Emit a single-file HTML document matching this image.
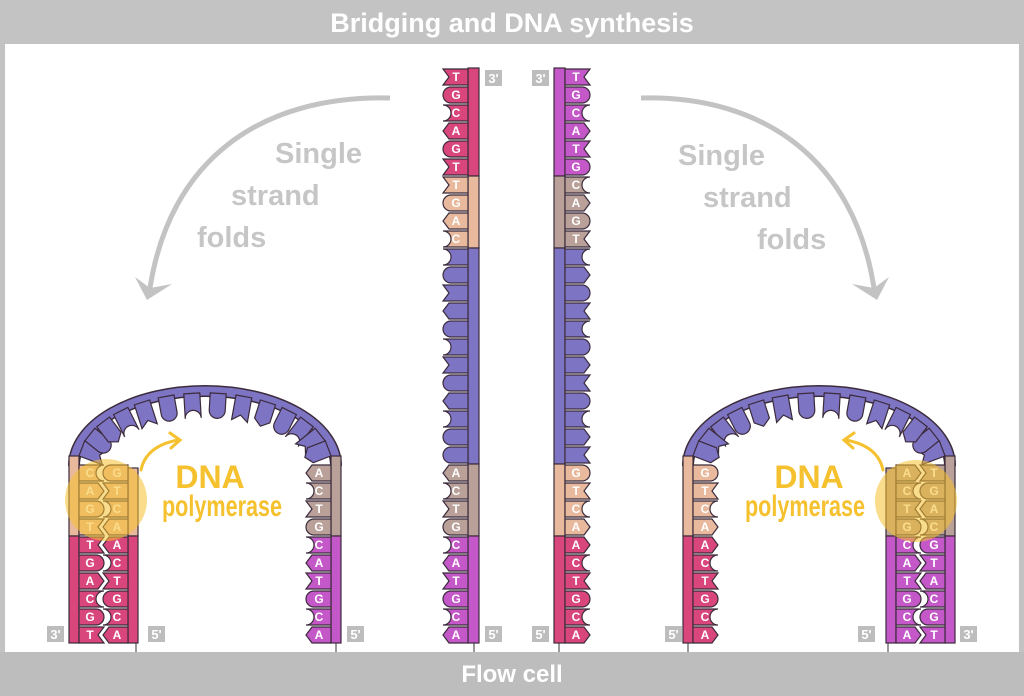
<!DOCTYPE html>
<html><head><meta charset="utf-8"><style>
html,body{margin:0;padding:0;background:#c3c3c3;}
svg{display:block;}
text{font-family:"Liberation Sans",sans-serif;font-weight:bold;}
.l{fill:#fff;font-size:12px;text-anchor:middle;}
</style></head><body>
<svg width="1024" height="696" viewBox="0 0 1024 696" xmlns="http://www.w3.org/2000/svg">
<defs>
<path id="A" d="M0,0H19L25,8L19,16H0Z" stroke="#3b2b3b" stroke-width="1.2"/>
<path id="T" d="M0,0H25L19,8L25,16H0Z" stroke="#3b2b3b" stroke-width="1.2"/>
<path id="G" d="M0,0H17A8,8 0 0 1 17,16H0Z" stroke="#3b2b3b" stroke-width="1.2"/>
<path id="C" d="M0,0H25A8,8 0 0 0 25,16H0Z" stroke="#3b2b3b" stroke-width="1.2"/>
<g id="teeth" fill="#7d74c4">
<use href="#T" transform="translate(81.8,448.4) rotate(20.9) translate(0,-8)"/>
<use href="#G" transform="translate(89.9,434.5) rotate(38.7) translate(0,-8)"/>
<use href="#A" transform="translate(103.1,421.9) rotate(52.6) translate(0,-8)"/>
<use href="#C" transform="translate(120.7,411) rotate(63.4) translate(0,-8)"/>
<use href="#T" transform="translate(142,402.4) rotate(72.2) translate(0,-8)"/>
<use href="#G" transform="translate(166.1,396.4) rotate(79.8) translate(0,-8)"/>
<use href="#C" transform="translate(191.8,393.4) rotate(86.7) translate(0,-8)"/>
<use href="#G" transform="translate(218.2,393.4) rotate(93.3) translate(0,-8)"/>
<use href="#T" transform="translate(243.9,396.4) rotate(100.2) translate(0,-8)"/>
<use href="#A" transform="translate(268,402.4) rotate(107.8) translate(0,-8)"/>
<use href="#G" transform="translate(289.3,411) rotate(116.6) translate(0,-8)"/>
<use href="#C" transform="translate(306.9,421.9) rotate(127.4) translate(0,-8)"/>
<use href="#T" transform="translate(320.1,434.5) rotate(141.3) translate(0,-8)"/>
<use href="#A" transform="translate(328.2,448.4) rotate(159.1) translate(0,-8)"/>
</g>
</defs>
<rect x="5" y="44" width="1014" height="608" fill="#fff"/>
<text x="512" y="32" fill="#fff" font-size="27" text-anchor="middle">Bridging and DNA synthesis</text>
<rect x="0" y="652" width="1024" height="44" fill="#bdbdbd"/>
<text x="512" y="682" fill="#fff" font-size="24" text-anchor="middle">Flow cell</text>

<g fill="none" stroke="#c3c3c3" stroke-width="5">
<path d="M390,98 C260,95 170,160 150,288"/>
<path d="M641,98 C764,95 854,160 874,288"/>
</g>
<polygon points="135,277 147,300 172,284 150,288" fill="#c3c3c3"/>
<polygon points="889,277 877,300 852,284 874,288" fill="#c3c3c3"/>
<g fill="#c6c6c6" font-size="29">
<text x="275" y="163">Single</text><text x="231" y="205">strand</text><text x="197" y="247">folds</text>
<text x="678" y="165">Single</text><text x="703" y="207">strand</text><text x="757" y="249">folds</text>
</g>

<g stroke="#999" stroke-width="2">
<line x1="474" y1="643" x2="474" y2="652"/><line x1="559" y1="643" x2="559" y2="652"/>
<line x1="136" y1="643" x2="136" y2="652"/><line x1="336" y1="643" x2="336" y2="652"/>
<line x1="688" y1="643" x2="688" y2="652"/><line x1="888" y1="643" x2="888" y2="652"/>
</g>

<g stroke="#3b2b3b" stroke-width="1.2">
<rect x="468" y="68" width="11" height="108" fill="#d9467b"/>
<rect x="468" y="176" width="11" height="72" fill="#e8b99c"/>
<rect x="468" y="248" width="11" height="216" fill="#7d74c4"/>
<rect x="468" y="464" width="11" height="72" fill="#b9a099"/>
<rect x="468" y="536" width="11" height="107" fill="#c458c9"/>
<rect x="554" y="68" width="11" height="108" fill="#c458c9"/>
<rect x="554" y="176" width="11" height="72" fill="#b9a099"/>
<rect x="554" y="248" width="11" height="216" fill="#7d74c4"/>
<rect x="554" y="464" width="11" height="72" fill="#e8b99c"/>
<rect x="554" y="536" width="11" height="107" fill="#d9467b"/>
</g>
<g fill="#d9467b">
<use href="#T" transform="translate(468,69) scale(-1,1)"/><use href="#G" transform="translate(468,87) scale(-1,1)"/><use href="#C" transform="translate(468,105) scale(-1,1)"/><use href="#A" transform="translate(468,123) scale(-1,1)"/><use href="#G" transform="translate(468,141) scale(-1,1)"/><use href="#T" transform="translate(468,159) scale(-1,1)"/>
</g>
<g fill="#e8b99c">
<use href="#T" transform="translate(468,177) scale(-1,1)"/><use href="#G" transform="translate(468,195) scale(-1,1)"/><use href="#A" transform="translate(468,213) scale(-1,1)"/><use href="#C" transform="translate(468,231) scale(-1,1)"/>
</g>
<g fill="#7d74c4">
<use href="#C" transform="translate(468,249) scale(-1,1)"/><use href="#G" transform="translate(468,267) scale(-1,1)"/><use href="#T" transform="translate(468,285) scale(-1,1)"/><use href="#A" transform="translate(468,303) scale(-1,1)"/><use href="#G" transform="translate(468,321) scale(-1,1)"/><use href="#C" transform="translate(468,339) scale(-1,1)"/><use href="#T" transform="translate(468,357) scale(-1,1)"/><use href="#G" transform="translate(468,375) scale(-1,1)"/><use href="#A" transform="translate(468,393) scale(-1,1)"/><use href="#C" transform="translate(468,411) scale(-1,1)"/><use href="#G" transform="translate(468,429) scale(-1,1)"/><use href="#G" transform="translate(468,447) scale(-1,1)"/>
</g>
<g fill="#b9a099">
<use href="#A" transform="translate(468,465) scale(-1,1)"/><use href="#C" transform="translate(468,483) scale(-1,1)"/><use href="#T" transform="translate(468,501) scale(-1,1)"/><use href="#G" transform="translate(468,519) scale(-1,1)"/>
</g>
<g fill="#c458c9">
<use href="#C" transform="translate(468,537) scale(-1,1)"/><use href="#A" transform="translate(468,555) scale(-1,1)"/><use href="#T" transform="translate(468,573) scale(-1,1)"/><use href="#G" transform="translate(468,591) scale(-1,1)"/><use href="#C" transform="translate(468,609) scale(-1,1)"/><use href="#A" transform="translate(468,627) scale(-1,1)"/>
</g>
<g class="l">
<text x="456" y="81">T</text><text x="456" y="99">G</text><text x="456" y="117">C</text><text x="456" y="135">A</text><text x="456" y="153">G</text><text x="456" y="171">T</text>
<text x="456" y="189">T</text><text x="456" y="207">G</text><text x="456" y="225">A</text><text x="456" y="243">C</text>
<text x="456" y="477">A</text><text x="456" y="495">C</text><text x="456" y="513">T</text><text x="456" y="531">G</text>
<text x="456" y="549">C</text><text x="456" y="567">A</text><text x="456" y="585">T</text><text x="456" y="603">G</text><text x="456" y="621">C</text><text x="456" y="639">A</text>
</g>
<g fill="#c458c9">
<use href="#T" x="565" y="69"/><use href="#G" x="565" y="87"/><use href="#C" x="565" y="105"/><use href="#A" x="565" y="123"/><use href="#T" x="565" y="141"/><use href="#G" x="565" y="159"/>
</g>
<g fill="#b9a099">
<use href="#C" x="565" y="177"/><use href="#A" x="565" y="195"/><use href="#G" x="565" y="213"/><use href="#T" x="565" y="231"/>
</g>
<g fill="#7d74c4">
<use href="#C" x="565" y="249"/><use href="#A" x="565" y="267"/><use href="#G" x="565" y="285"/><use href="#T" x="565" y="303"/><use href="#C" x="565" y="321"/><use href="#G" x="565" y="339"/><use href="#A" x="565" y="357"/><use href="#T" x="565" y="375"/><use href="#G" x="565" y="393"/><use href="#C" x="565" y="411"/><use href="#A" x="565" y="429"/><use href="#T" x="565" y="447"/>
</g>
<g fill="#e8b99c">
<use href="#G" x="565" y="465"/><use href="#T" x="565" y="483"/><use href="#C" x="565" y="501"/><use href="#A" x="565" y="519"/>
</g>
<g fill="#d9467b">
<use href="#A" x="565" y="537"/><use href="#C" x="565" y="555"/><use href="#T" x="565" y="573"/><use href="#G" x="565" y="591"/><use href="#C" x="565" y="609"/><use href="#A" x="565" y="627"/>
</g>
<g class="l">
<text x="576" y="81">T</text><text x="576" y="99">G</text><text x="576" y="117">C</text><text x="576" y="135">A</text><text x="576" y="153">T</text><text x="576" y="171">G</text>
<text x="576" y="189">C</text><text x="576" y="207">A</text><text x="576" y="225">G</text><text x="576" y="243">T</text>
<text x="576" y="477">G</text><text x="576" y="495">T</text><text x="576" y="513">C</text><text x="576" y="531">A</text>
<text x="576" y="549">A</text><text x="576" y="567">C</text><text x="576" y="585">T</text><text x="576" y="603">G</text><text x="576" y="621">C</text><text x="576" y="639">A</text>
</g>

<path d="M74,466 A131,75 0 0 1 336,466" fill="none" stroke="#3b2b3b" stroke-width="12"/>
<path d="M74,466 A131,75 0 0 1 336,466" fill="none" stroke="#7d74c4" stroke-width="9"/>
<use href="#teeth"/>
<g stroke="#3b2b3b" stroke-width="1.2">
<rect x="69" y="456" width="10" height="80" fill="#e8b99c"/>
<rect x="69" y="536" width="10" height="107" fill="#d9467b"/>
<rect x="331" y="456" width="10" height="80" fill="#b9a099"/>
<rect x="331" y="536" width="10" height="107" fill="#c458c9"/>
<rect x="128" y="468" width="10" height="68" fill="#e8b99c"/>
<rect x="128" y="536" width="10" height="107" fill="#d9467b"/>
</g>
<g fill="#e8b99c">
<use href="#C" x="79" y="465"/><use href="#A" x="79" y="483"/><use href="#G" x="79" y="501"/><use href="#T" x="79" y="519"/>
<use href="#G" transform="translate(128,465) scale(-1,1)"/><use href="#T" transform="translate(128,483) scale(-1,1)"/><use href="#C" transform="translate(128,501) scale(-1,1)"/><use href="#A" transform="translate(128,519) scale(-1,1)"/>
</g>
<g fill="#d9467b">
<use href="#T" x="79" y="537"/><use href="#G" x="79" y="555"/><use href="#A" x="79" y="573"/><use href="#C" x="79" y="591"/><use href="#G" x="79" y="609"/><use href="#T" x="79" y="627"/>
<use href="#A" transform="translate(128,537) scale(-1,1)"/><use href="#C" transform="translate(128,555) scale(-1,1)"/><use href="#T" transform="translate(128,573) scale(-1,1)"/><use href="#G" transform="translate(128,591) scale(-1,1)"/><use href="#C" transform="translate(128,609) scale(-1,1)"/><use href="#A" transform="translate(128,627) scale(-1,1)"/>
</g>
<g fill="#b9a099">
<use href="#A" transform="translate(331,465) scale(-1,1)"/><use href="#C" transform="translate(331,483) scale(-1,1)"/><use href="#T" transform="translate(331,501) scale(-1,1)"/><use href="#G" transform="translate(331,519) scale(-1,1)"/>
</g>
<g fill="#c458c9">
<use href="#C" transform="translate(331,537) scale(-1,1)"/><use href="#A" transform="translate(331,555) scale(-1,1)"/><use href="#T" transform="translate(331,573) scale(-1,1)"/><use href="#G" transform="translate(331,591) scale(-1,1)"/><use href="#C" transform="translate(331,609) scale(-1,1)"/><use href="#A" transform="translate(331,627) scale(-1,1)"/>
</g>
<g class="l">
<text x="90" y="477">C</text><text x="90" y="495">A</text><text x="90" y="513">G</text><text x="90" y="531">T</text>
<text x="90" y="549">T</text><text x="90" y="567">G</text><text x="90" y="585">A</text><text x="90" y="603">C</text><text x="90" y="621">G</text><text x="90" y="639">T</text>
<text x="117" y="477">G</text><text x="117" y="495">T</text><text x="117" y="513">C</text><text x="117" y="531">A</text>
<text x="117" y="549">A</text><text x="117" y="567">C</text><text x="117" y="585">T</text><text x="117" y="603">G</text><text x="117" y="621">C</text><text x="117" y="639">A</text>
<text x="319" y="477">A</text><text x="319" y="495">C</text><text x="319" y="513">T</text><text x="319" y="531">G</text>
<text x="319" y="549">C</text><text x="319" y="567">A</text><text x="319" y="585">T</text><text x="319" y="603">G</text><text x="319" y="621">C</text><text x="319" y="639">A</text>
</g>

<g transform="translate(1024,0) scale(-1,1)">
<path d="M74,466 A131,75 0 0 1 336,466" fill="none" stroke="#3b2b3b" stroke-width="12"/>
<path d="M74,466 A131,75 0 0 1 336,466" fill="none" stroke="#7d74c4" stroke-width="9"/>
<use href="#teeth"/>
<g stroke="#3b2b3b" stroke-width="1.2">
<rect x="69" y="456" width="10" height="80" fill="#b9a099"/>
<rect x="69" y="536" width="10" height="107" fill="#c458c9"/>
<rect x="331" y="456" width="10" height="80" fill="#e8b99c"/>
<rect x="331" y="536" width="10" height="107" fill="#d9467b"/>
<rect x="128" y="468" width="10" height="68" fill="#b9a099"/>
<rect x="128" y="536" width="10" height="107" fill="#c458c9"/>
</g>
<g fill="#b9a099">
<use href="#T" x="79" y="465"/><use href="#G" x="79" y="483"/><use href="#A" x="79" y="501"/><use href="#C" x="79" y="519"/>
<use href="#A" transform="translate(128,465) scale(-1,1)"/><use href="#C" transform="translate(128,483) scale(-1,1)"/><use href="#T" transform="translate(128,501) scale(-1,1)"/><use href="#G" transform="translate(128,519) scale(-1,1)"/>
</g>
<g fill="#c458c9">
<use href="#G" x="79" y="537"/><use href="#T" x="79" y="555"/><use href="#A" x="79" y="573"/><use href="#C" x="79" y="591"/><use href="#G" x="79" y="609"/><use href="#T" x="79" y="627"/>
<use href="#C" transform="translate(128,537) scale(-1,1)"/><use href="#A" transform="translate(128,555) scale(-1,1)"/><use href="#T" transform="translate(128,573) scale(-1,1)"/><use href="#G" transform="translate(128,591) scale(-1,1)"/><use href="#C" transform="translate(128,609) scale(-1,1)"/><use href="#A" transform="translate(128,627) scale(-1,1)"/>
</g>
<g fill="#e8b99c">
<use href="#G" transform="translate(331,465) scale(-1,1)"/><use href="#T" transform="translate(331,483) scale(-1,1)"/><use href="#C" transform="translate(331,501) scale(-1,1)"/><use href="#A" transform="translate(331,519) scale(-1,1)"/>
</g>
<g fill="#d9467b">
<use href="#A" transform="translate(331,537) scale(-1,1)"/><use href="#C" transform="translate(331,555) scale(-1,1)"/><use href="#T" transform="translate(331,573) scale(-1,1)"/><use href="#G" transform="translate(331,591) scale(-1,1)"/><use href="#C" transform="translate(331,609) scale(-1,1)"/><use href="#A" transform="translate(331,627) scale(-1,1)"/>
</g>
</g>
<g class="l">
<text x="934" y="477">T</text><text x="934" y="495">G</text><text x="934" y="513">A</text><text x="934" y="531">C</text>
<text x="934" y="549">G</text><text x="934" y="567">T</text><text x="934" y="585">A</text><text x="934" y="603">C</text><text x="934" y="621">G</text><text x="934" y="639">T</text>
<text x="907" y="477">A</text><text x="907" y="495">C</text><text x="907" y="513">T</text><text x="907" y="531">G</text>
<text x="907" y="549">C</text><text x="907" y="567">A</text><text x="907" y="585">T</text><text x="907" y="603">G</text><text x="907" y="621">C</text><text x="907" y="639">A</text>
<text x="705" y="477">G</text><text x="705" y="495">T</text><text x="705" y="513">C</text><text x="705" y="531">A</text>
<text x="705" y="549">A</text><text x="705" y="567">C</text><text x="705" y="585">T</text><text x="705" y="603">G</text><text x="705" y="621">C</text><text x="705" y="639">A</text>
</g>

<circle cx="106" cy="500" r="41" fill="#f5c12e" opacity="0.55"/>
<circle cx="916" cy="501" r="41" fill="#f5c12e" opacity="0.55"/>
<g fill="none" stroke="#f5c12e" stroke-width="3" stroke-linecap="round">
<path d="M141,470 Q146,446 178,440"/><polyline points="170,433 180,440 171,448"/>
<path d="M883,470 Q878,446 846,440"/><polyline points="854,433 844,440 853,448"/>
</g>
<g fill="#f5c12e" text-anchor="middle">
<text x="210" y="488" font-size="32">DNA</text>
<text x="222" y="516" font-size="30" textLength="120" lengthAdjust="spacingAndGlyphs">polymerase</text>
<text x="809" y="488" font-size="32">DNA</text>
<text x="805" y="516" font-size="30" textLength="120" lengthAdjust="spacingAndGlyphs">polymerase</text>
</g>

<g fill="#bdbdbd">
<rect x="485" y="70" width="17" height="16"/><rect x="532" y="70" width="17" height="16"/>
<rect x="485" y="626" width="17" height="16"/><rect x="532" y="626" width="17" height="16"/>
<rect x="47" y="626" width="17" height="16"/><rect x="148" y="626" width="17" height="16"/><rect x="347" y="626" width="17" height="16"/>
<rect x="665" y="626" width="17" height="16"/><rect x="858" y="626" width="17" height="16"/><rect x="960" y="626" width="17" height="16"/>
</g>
<g fill="#fff" font-size="13" text-anchor="middle">
<text x="493.5" y="83">3'</text><text x="540.5" y="83">3'</text>
<text x="493.5" y="639">5'</text><text x="540.5" y="639">5'</text>
<text x="55.5" y="639">3'</text><text x="156.5" y="639">5'</text><text x="355.5" y="639">5'</text>
<text x="673.5" y="639">5'</text><text x="866.5" y="639">5'</text><text x="968.5" y="639">3'</text>
</g>
</svg>
</body></html>
